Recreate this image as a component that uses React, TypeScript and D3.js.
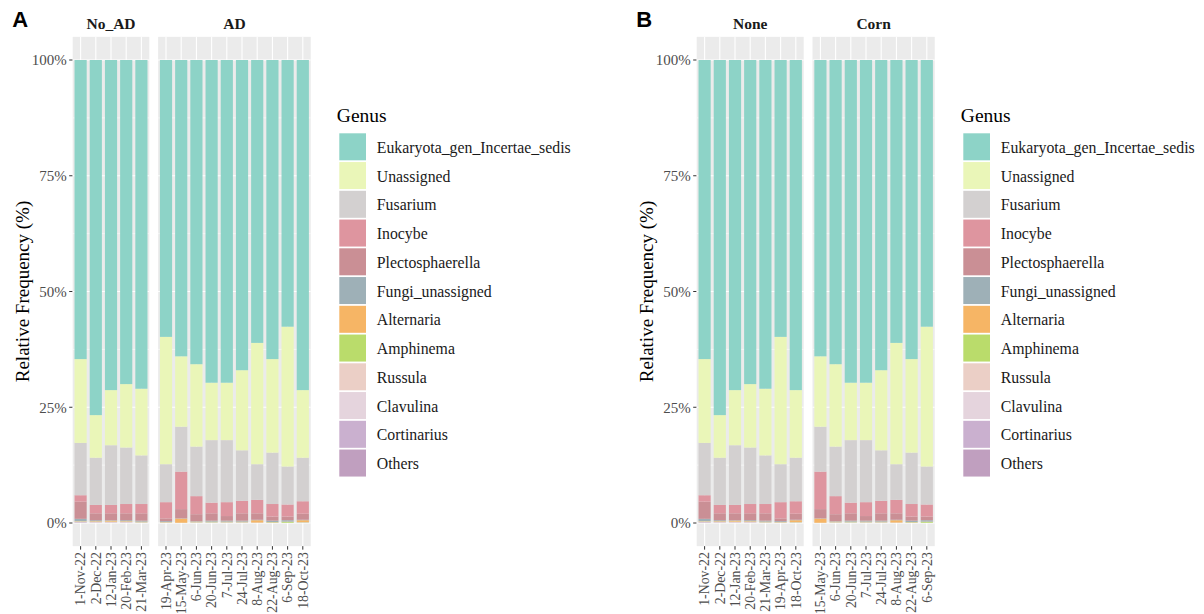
import React from "react";
import * as d3 from "d3";

// sample dates (x categories)
const samples = [
  "1-Nov-22", "2-Dec-22", "12-Jan-23", "20-Feb-23", "21-Mar-23", "19-Apr-23",
  "15-May-23", "6-Jun-23", "20-Jun-23", "7-Jul-23", "24-Jul-23", "8-Aug-23",
  "22-Aug-23", "6-Sep-23", "18-Oct-23",
];

// facets
const noAD = ["1-Nov-22", "2-Dec-22", "12-Jan-23", "20-Feb-23", "21-Mar-23"];
const withAD = ["19-Apr-23", "15-May-23", "6-Jun-23", "20-Jun-23", "7-Jul-23", "24-Jul-23", "8-Aug-23", "22-Aug-23", "6-Sep-23", "18-Oct-23"];
const noneCrop = ["1-Nov-22", "2-Dec-22", "12-Jan-23", "20-Feb-23", "21-Mar-23", "19-Apr-23", "18-Oct-23"];
const cornCrop = ["15-May-23", "6-Jun-23", "20-Jun-23", "7-Jul-23", "24-Jul-23", "8-Aug-23", "22-Aug-23", "6-Sep-23"];

const genera = [
  "Eukaryota_gen_Incertae_sedis", "Unassigned", "Fusarium", "Inocybe",
  "Plectosphaerella", "Fungi_unassigned", "Alternaria", "Amphinema",
  "Russula", "Clavulina", "Cortinarius", "Others",
];
const genusColors = [
  "#8dd3c7", "#eaf6b8", "#d3d0d0", "#de959f", "#ca8f95", "#9eb0b7",
  "#f6b565", "#badc6b", "#ebcfc6", "#e5d4dd", "#cab0cf", "#c09fbf",
];

// relative frequency (%) per genus, in sample order
const eukaryota = [64.6, 76.7, 71.3, 70.0, 71.0, 59.8, 64.0, 65.7, 69.7, 69.7, 67.0, 61.1, 64.6, 57.6, 71.3];
const unassigned = [18.1, 9.2, 11.9, 13.7, 14.4, 27.5, 15.2, 17.8, 12.4, 12.4, 17.3, 26.2, 20.2, 30.2, 14.6];
const fusarium = [11.3, 10.2, 12.9, 12.2, 10.5, 8.2, 9.7, 10.7, 13.5, 13.4, 10.9, 7.7, 11.1, 8.2, 9.4];
const inocybe = [1.4, 1.8, 1.8, 2.0, 2.0, 3.5, 8.1, 3.9, 2.3, 3.0, 2.7, 2.9, 2.7, 2.6, 2.7];
const plectosphaerella = [3.7, 1.5, 1.5, 1.5, 1.6, 0.6, 2.0, 1.5, 1.6, 1.0, 1.6, 1.4, 0.9, 0.8, 1.3];
const fungiUnassigned = [0.5, 0.2, 0.1, 0.2, 0.2, 0.2, 0.05, 0.1, 0.2, 0.2, 0.2, 0.1, 0.3, 0.3, 0.1];
const alternaria = [0.05, 0.1, 0.2, 0.1, 0.1, 0.05, 0.9, 0.1, 0.05, 0.1, 0.1, 0.5, 0.05, 0.05, 0.4];
const amphinema = [0.05, 0.05, 0.05, 0.05, 0.05, 0.05, 0.02, 0.05, 0.1, 0.05, 0.05, 0.02, 0.1, 0.2, 0.05];
const russula = [0.1, 0.1, 0.1, 0.1, 0.05, 0.05, 0.01, 0.05, 0.05, 0.05, 0.05, 0.02, 0.02, 0.02, 0.05];
const clavulina = [0.05, 0.05, 0.05, 0.05, 0.03, 0.02, 0.01, 0.03, 0.03, 0.03, 0.03, 0.02, 0.01, 0.01, 0.03];
const cortinarius = [0.05, 0.05, 0.05, 0.05, 0.03, 0.01, 0.005, 0.03, 0.03, 0.03, 0.03, 0.02, 0.01, 0.01, 0.03];
const others = [0.1, 0.05, 0.05, 0.05, 0.04, 0.02, 0.005, 0.04, 0.04, 0.04, 0.04, 0.02, 0.01, 0.01, 0.04];

const yTicks = [0, 0.25, 0.5, 0.75, 1];
const yMinor = [0.125, 0.375, 0.625, 0.875];

const seriesValues = [
  eukaryota, unassigned, fusarium, inocybe, plectosphaerella, fungiUnassigned,
  alternaria, amphinema, russula, clavulina, cortinarius, others,
];

const rows = samples.map((s, i) => {
  const r: any = { sample: s };
  genera.forEach((g, j) => (r[g] = seriesValues[j][i]));
  return r;
});

// first genus on top, like ggplot
const stacked = d3
  .stack()
  .keys([...genera].reverse())
  .offset(d3.stackOffsetExpand)(rows);

const color = d3.scaleOrdinal<string, string>().domain(genera).range(genusColors);

const serif = "'Liberation Serif', 'Times New Roman', serif";
const sans = "'Liberation Sans', Arial, sans-serif";

const y = d3.scaleLinear().domain([-0.05, 1.05]).range([546.15, 36.85]);
const fmt = d3.format(".0%");

const step = 15.2;
const facetGap = 8.8;

function FacetPlot({ left, facets, letter }) {
  let x0 = left;
  const layout = facets.map((f) => {
    const w = step * (f.samples.length + 0.04);
    const xs = d3
      .scaleBand()
      .domain(f.samples)
      .range([x0, x0 + w])
      .paddingInner(0.2)
      .paddingOuter(0.12);
    const out = { ...f, x0, w, xs };
    x0 += w + facetGap;
    return out;
  });
  const [top, bottom] = [y(1.05), y(-0.05)];

  return (
    <g>
      <text x={left - 60.5} y={26.5} fontFamily={sans} fontWeight="bold" fontSize={22}>
        {letter}
      </text>
      <text
        transform={`translate(${left - 44},${(top + bottom) / 2}) rotate(-90)`}
        textAnchor="middle"
        fontFamily={serif}
        fontSize={19}
      >
        Relative Frequency (%)
      </text>
      {yTicks.map((t) => (
        <g key={t}>
          <line x1={left - 3.5} x2={left} y1={y(t)} y2={y(t)} stroke="#333" strokeWidth={1} />
          <text
            x={left - 6}
            y={y(t)}
            dy="0.35em"
            textAnchor="end"
            fontFamily={serif}
            fontSize={15}
            fill="#4d4d4d"
          >
            {fmt(t)}
          </text>
        </g>
      ))}
      {layout.map((f) => (
        <g key={f.name}>
          <text
            x={f.x0 + f.w / 2}
            y={28.5}
            textAnchor="middle"
            fontFamily={serif}
            fontWeight="bold"
            fontSize={15.5}
            fill="#1a1a1a"
          >
            {f.name}
          </text>
          <rect x={f.x0} y={top} width={f.w} height={bottom - top} fill="#ebebeb" />
          {yMinor.map((t) => (
            <line key={t} x1={f.x0} x2={f.x0 + f.w} y1={y(t)} y2={y(t)} stroke="#fff" strokeWidth={0.55} />
          ))}
          {yTicks.map((t) => (
            <line key={t} x1={f.x0} x2={f.x0 + f.w} y1={y(t)} y2={y(t)} stroke="#fff" strokeWidth={1.1} />
          ))}
          {f.samples.map((s) => {
            const cx = f.xs(s) + f.xs.bandwidth() / 2;
            return (
              <g key={s}>
                <line x1={cx} x2={cx} y1={top} y2={bottom} stroke="#fff" strokeWidth={1.1} />
                <line x1={cx} x2={cx} y1={bottom} y2={bottom + 3.5} stroke="#333" strokeWidth={1} />
                <text
                  transform={`translate(${cx},${bottom + 6}) rotate(-90)`}
                  dy="0.35em"
                  textAnchor="end"
                  fontFamily={serif}
                  fontSize={13.8}
                  fill="#4d4d4d"
                >
                  {s}
                </text>
              </g>
            );
          })}
          {stacked.map((layer) =>
            layer
              .filter((d) => f.samples.includes(d.data.sample))
              .map((d) => (
                <rect
                  key={layer.key + d.data.sample}
                  x={f.xs(d.data.sample)}
                  width={f.xs.bandwidth()}
                  y={y(d[1])}
                  height={Math.max(0, y(d[0]) - y(d[1]))}
                  fill={color(layer.key)}
                />
              ))
          )}
        </g>
      ))}
    </g>
  );
}

function Legend({ left }) {
  const pitch = 28.75;
  return (
    <g>
      <text x={left - 2.5} y={121.5} fontFamily={serif} fontSize={19.5}>
        Genus
      </text>
      {genera.map((g, i) => (
        <g key={g}>
          <rect x={left} y={133.3 + i * pitch} width={26.7} height={27} fill={color(g)} />
          <text
            x={left + 37.5}
            y={133.3 + i * pitch + 14}
            dy="0.35em"
            fontFamily={serif}
            fontSize={15.8}
            fill="#1a1a1a"
          >
            {g}
          </text>
        </g>
      ))}
    </g>
  );
}

export default function App() {
  return (
    <svg
      width={1204}
      height={614}
      style={{ position: "absolute", left: 0, top: 0, background: "#fff" }}
    >
      <FacetPlot
        left={72.7}
        letter="A"
        facets={[
          { name: "No_AD", samples: noAD },
          { name: "AD", samples: withAD },
        ]}
      />
      <Legend left={339.3} />
      <FacetPlot
        left={696.7}
        letter="B"
        facets={[
          { name: "None", samples: noneCrop },
          { name: "Corn", samples: cornCrop },
        ]}
      />
      <Legend left={963.3} />
    </svg>
  );
}
